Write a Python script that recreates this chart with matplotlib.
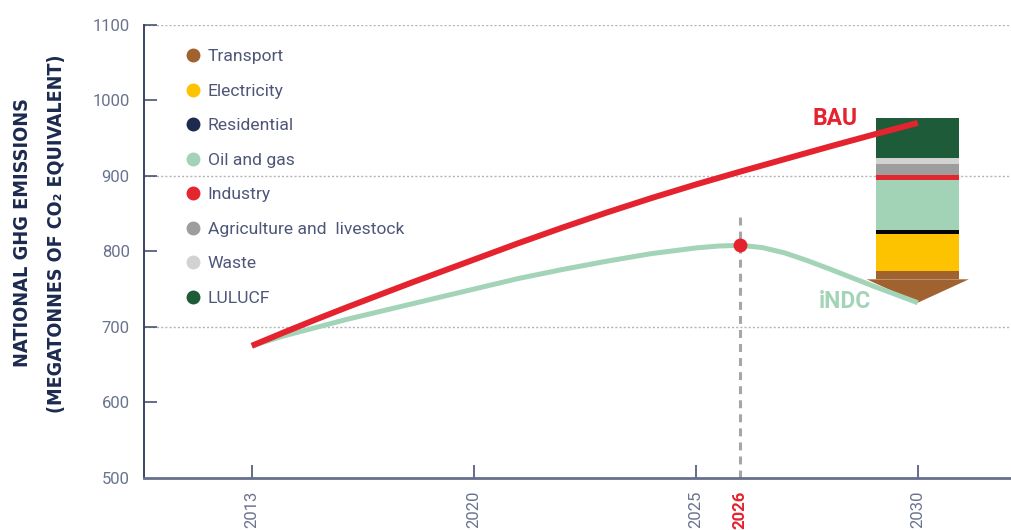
import matplotlib
matplotlib.use("Agg")
import matplotlib.pyplot as plt
import numpy as np
from matplotlib import font_manager
from matplotlib.lines import Line2D

# ---------------- data ----------------
BAU_YEARS = [2013, 2014, 2015, 2016, 2017, 2018, 2019, 2020, 2021, 2022,
             2023, 2024, 2025, 2026, 2027, 2028, 2029, 2030]
BAU = [675, 692.5, 709.5, 726, 742, 758, 773.5, 789, 810.7, 831.5,
       851.5, 870.5, 888.5, 905.5, 922, 938.5, 954.5, 970]

INDC_YEARS = [2013, 2014, 2015, 2016, 2017, 2018, 2019, 2020, 2021, 2022,
              2023, 2024, 2025, 2025.5, 2026, 2026.5, 2027, 2027.5, 2028,
              2029, 2030]
INDC = [675, 688, 699, 710, 720, 730, 740, 750, 764, 776,
        787, 797, 804.5, 807, 808, 805, 798, 788, 777,
        754, 732]

PEAK_YEAR = 2026
BAR_YEAR = 2030

SECTORS = ["Transport", "Electricity", "Residential", "Oil and gas", "Industry",
           "Agriculture and  livestock", "Waste", "LULUCF"]
REDUCTIONS = [42, 49.5, 5, 66, 7, 14, 8, 53]
SECTOR_COLORS = ["#a0622f", "#fdc300", "#1b2a4e", "#a2d3b7", "#e4262f",
                 "#9d9d9d", "#d2d2d2", "#1d5b39"]
BAR_COLORS = ["#a0622f", "#fdc300", "#050505", "#a2d3b7", "#e4262f",
              "#9d9d9d", "#d2d2d2", "#1d5b39"]

X_TICKS = [2013, 2020, 2025, 2026, 2030]
X_TICK_LABELS = ["2013", "2020", "2025", "2026", "2030"]
Y_TICKS = [500, 600, 700, 800, 900, 1000, 1100]
GRID_LEVELS = [700, 900, 1100]

# ---------------- style ----------------
RED = "#e4232f"
GREEN = "#a3d4b8"
NAVY = "#1b2a4e"
TICK_GREY = "#69738f"
TEXT_GREY = "#4e5779"

names = {f.name for f in font_manager.fontManager.ttflist}
cond_dejavu = any(f.name == "DejaVu Sans" and f.stretch == "condensed"
                  for f in font_manager.fontManager.ttflist)
if "Liberation Sans Narrow" in names:
    COND = dict(family=["Liberation Sans Narrow", "DejaVu Sans"])
elif cond_dejavu:
    COND = dict(family=["DejaVu Sans"], stretch="condensed")
else:
    COND = dict(family=["Roboto", "DejaVu Sans"])
BODY = dict(family=["Roboto", "DejaVu Sans"], weight="normal")

# x scale: equal spacing between tick years
K_YEARS = np.array([1900.0, 2013, 2020, 2025, 2030, 2200])
K_POS = np.array([-113 / 7, 0, 1, 2, 3, 3 + 170 / 5])


def fwd(x):
    return np.interp(x, K_YEARS, K_POS)


def inv(p):
    return np.interp(p, K_POS, K_YEARS)


fig = plt.figure(figsize=(10.11, 5.30), dpi=100)
L, B = 144.3 / 1011, 52 / 530
ax = fig.add_axes([L, B, 1 - L, (478 - 24.7) / 530])
ax.set_xscale("function", functions=(fwd, inv))
ax.set_xlim(2009.61, 2032.1)
ax.set_ylim(500, 1100)

for s in ("top", "right"):
    ax.spines[s].set_visible(False)
ax.spines["left"].set_color("#3a4466")
ax.spines["left"].set_linewidth(1.4)
ax.spines["bottom"].set_color("#66708c")
ax.spines["bottom"].set_linewidth(2.0)

for lvl in GRID_LEVELS:
    ax.axhline(lvl, color="#b5b5b5", lw=1.0, ls=(0, (1.5, 1.5)), zorder=0.5)

# stacked reduction bar with arrow head
bar_w = 1.88
head_len = 31
tip = INDC[INDC_YEARS.index(BAR_YEAR)]
bottoms = tip + np.concatenate([[0], np.cumsum(REDUCTIONS)[:-1]])
for i, (h, b, c) in enumerate(zip(REDUCTIONS, bottoms, BAR_COLORS)):
    if i == 0:
        ax.bar(BAR_YEAR, h - head_len, bottom=b + head_len, width=bar_w,
               color=c, lw=0, zorder=2)
        ax.fill([BAR_YEAR - 1.15, BAR_YEAR + 1.15, BAR_YEAR],
                [b + head_len, b + head_len, b], color=c, lw=0, zorder=2)
    else:
        ax.bar(BAR_YEAR, h, bottom=b, width=bar_w, color=c, lw=0, zorder=2)

# marker line at peak year
peak_val = INDC[INDC_YEARS.index(PEAK_YEAR)]
ax.vlines(PEAK_YEAR, 500, 851, colors="#a6a6a6", lw=2.2,
          linestyles=(0, (2.6, 2.0)), zorder=1)

ax.plot(INDC_YEARS, INDC, color=GREEN, lw=3.6, solid_capstyle="butt",
        solid_joinstyle="round", zorder=3)
ax.plot(BAU_YEARS, BAU, color=RED, lw=4.3, solid_capstyle="butt",
        solid_joinstyle="round", zorder=4)
ax.plot([PEAK_YEAR], [peak_val], "o", color=RED, ms=9, zorder=5)

ax.text(2028.13, 976.5, "BAU", color=RED, fontsize=16.5, fontweight="bold",
        family=["Roboto", "DejaVu Sans"], ha="center", va="center", zorder=6)
ax.text(2028.35, 733, "iNDC", color=GREEN, fontsize=16.5, fontweight="bold",
        family=["Roboto", "DejaVu Sans"], ha="center", va="center", zorder=6)

# ticks
ax.set_yticks(Y_TICKS)
ax.set_yticklabels([str(v) for v in Y_TICKS], color=TICK_GREY, fontsize=12, **BODY)
ax.tick_params(axis="y", direction="in", length=9.6, width=1.1, color="#3a4466",
               pad=10.5)
for t, v in zip(ax.yaxis.get_major_ticks(), Y_TICKS):
    if v in GRID_LEVELS:
        t.tick1line.set_color("#8a90a6")
    if v == 500:
        t.tick1line.set_visible(False)

ax.set_xticks(X_TICKS)
ax.set_xticklabels(X_TICK_LABELS, rotation=90, color=TICK_GREY, fontsize=12, **BODY)
ax.tick_params(axis="x", direction="in", length=9.6, width=1.1, color="#3a4466",
               pad=9)
for t, lab, v in zip(ax.xaxis.get_major_ticks(), ax.get_xticklabels(), X_TICKS):
    if v == PEAK_YEAR:
        t.tick1line.set_visible(False)
        lab.set_color(RED)
        lab.set_fontweight("bold")

# legend
handles = [Line2D([], [], ls="", marker="o", ms=9, color=c, mec=c)
           for c in SECTOR_COLORS]
leg = ax.legend(handles, SECTORS, loc="upper left", bbox_to_anchor=(0.048, 0.9466),
                frameon=False, handlelength=0.8, handletextpad=0.45,
                borderpad=0, borderaxespad=0, labelspacing=1.1,
                prop=dict(size=12.6, **BODY))
for t in leg.get_texts():
    t.set_color(TEXT_GREY)

# y label (two lines), sized to match reference length
renderer = fig.canvas.get_renderer()
for txt, x, y, length in [("NATIONAL GHG EMISSIONS", 23 / 1011, 1 - 232.7 / 530, 271),
                          ("(MEGATONNES OF CO\u2082 EQUIVALENT)", 56.5 / 1011, 1 - 234 / 530, 362)]:
    t = fig.text(x, y, txt, rotation=90, ha="center", va="center", color=NAVY,
                 fontweight="bold", fontsize=16, **COND)
    ext = t.get_window_extent(renderer)
    t.set_fontsize(16 * length / ext.height)

fig.savefig("out.png", dpi=100)
